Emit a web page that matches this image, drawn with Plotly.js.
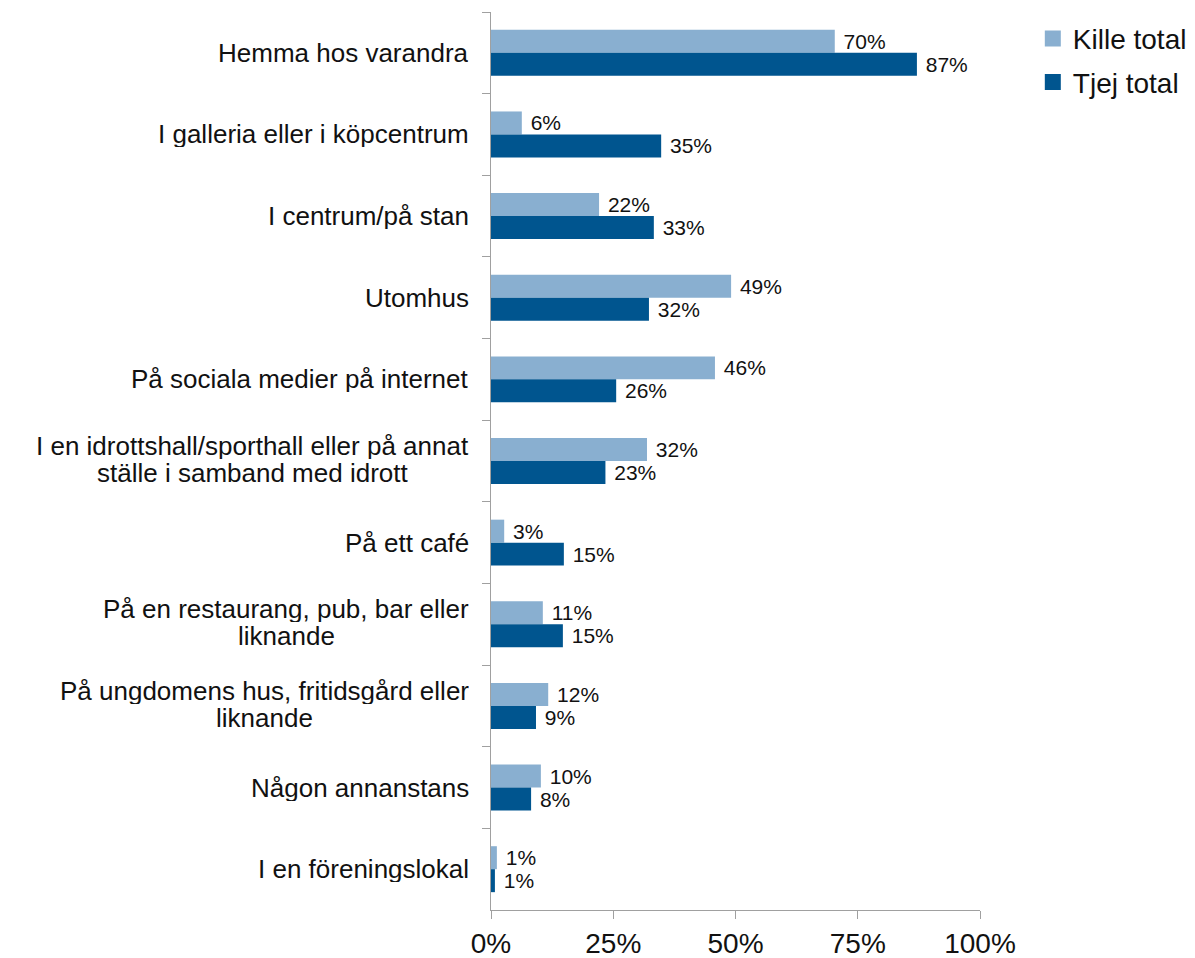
<!DOCTYPE html>
<html>
<head>
<meta charset="utf-8">
<script src="https://cdn.plot.ly/plotly-3.0.1.min.js"></script>
<style>html,body{margin:0;padding:0;background:#fff;}</style>
</head>
<body>
<div id="chart" style="width:1195px;height:958px;"></div>
<script>
var categories = [
  "Hemma hos varandra",
  "I galleria eller i köpcentrum",
  "I centrum/på stan",
  "Utomhus",
  "På sociala medier på internet",
  "I en idrottshall/sporthall eller på annat<br>ställe i samband med idrott",
  "På ett café",
  "På en restaurang, pub, bar eller<br>liknande",
  "På ungdomens hus, fritidsgård eller<br>liknande",
  "Någon annanstans",
  "I en föreningslokal"
];
var killeTotal = [70.3, 6.3, 22.1, 49.1, 45.8, 31.9, 2.7, 10.6, 11.7, 10.2, 1.2];
var tjejTotal  = [87.1, 34.8, 33.3, 32.3, 25.6, 23.4, 14.9, 14.7, 9.2, 8.2, 0.8];
var seriesNames = ["Kille total", "Tjej total"];
var seriesColors = ["#89AFD0", "#00558F"];
var xTickVals = [0, 25, 50, 75, 100];
var xTickText = ["0%", "25%", "50%", "75%", "100%"];

var FAMILY = "Liberation Sans, Arial, sans-serif";
var labelFont = {family: FAMILY, size: 21, color: "#111"};
var CAT_SIZE = 26;

function barTrace(vals, i) {
  return {
    type: "bar", orientation: "h",
    name: seriesNames[i], x: vals, y: categories,
    marker: {color: seriesColors[i]},
    text: vals.map(function(v){ return "\u00a0" + Math.round(v) + "%"; }),
    textposition: "outside", constraintext: "none", cliponaxis: false,
    textfont: labelFont,
    showlegend: false, hoverinfo: "skip"
  };
}
function legendTrace(i) {
  return {
    type: "scatter", mode: "markers", x: [null], y: [null],
    name: seriesNames[i], legendgroup: "g" + i,
    marker: {symbol: "square", size: 17, color: seriesColors[i]},
    showlegend: true, hoverinfo: "skip"
  };
}

var data = [barTrace(killeTotal, 0), barTrace(tjejTotal, 1), legendTrace(0), legendTrace(1)];

// measure text widths so that wrapped lines are centred on each other
var canvas = document.createElement("canvas");
var ctx = canvas.getContext("2d");
ctx.font = CAT_SIZE + "px 'Liberation Sans', Arial, sans-serif";

var annotations = [];
categories.forEach(function(c) {
  var lines = c.split("<br>");
  var n = lines.length;
  var widths = lines.map(function(l){ return ctx.measureText(l).width; });
  var maxW = Math.max.apply(null, widths);
  lines.forEach(function(line, k) {
    annotations.push({
      xref: "paper", yref: "y", x: 0, y: c,
      xanchor: "right", yanchor: "middle",
      xshift: -21 - (maxW - widths[k]) / 2,
      yshift: ((n - 1) / 2 - k) * 27 + (n > 1 ? 1.5 : 0),
      text: line, showarrow: false, align: "right",
      height: 26, borderpad: 0,
      font: {family: FAMILY, size: CAT_SIZE, color: "#111"}
    });
  });
});

var layout = {
  width: 1195, height: 958,
  margin: {l: 491, r: 215, t: 12, b: 48, pad: 0, autoexpand: false},
  paper_bgcolor: "#fff", plot_bgcolor: "#fff",
  barmode: "group", bargap: 0.437, bargroupgap: 0,
  font: {family: FAMILY, color: "#111"},
  xaxis: {
    range: [0, 100], tickvals: xTickVals, ticktext: xTickText,
    showgrid: false, zeroline: false, showline: true, linecolor: "#A0A0A0", linewidth: 1,
    ticks: "outside", ticklen: 8, tickcolor: "#A0A0A0",
    tickfont: {family: FAMILY, size: 28, color: "#111"},
    fixedrange: true
  },
  yaxis: {
    type: "category", range: [10.5, -0.5],
    showgrid: false, zeroline: false, showline: true, linecolor: "#A0A0A0", linewidth: 1,
    ticks: "outside", ticklen: 8, tickcolor: "#A0A0A0", tickson: "boundaries",
    showticklabels: false, fixedrange: true
  },
  legend: {
    x: 1.108, y: 0.998, xanchor: "left", yanchor: "top",
    font: {family: FAMILY, size: 28, color: "#111"},
    traceorder: "grouped", tracegroupgap: 4, bgcolor: "rgba(0,0,0,0)"
  },
  annotations: annotations,
  showlegend: true
};

Plotly.newPlot("chart", data, layout, {displayModeBar: false, staticPlot: true});
</script>
</body>
</html>
